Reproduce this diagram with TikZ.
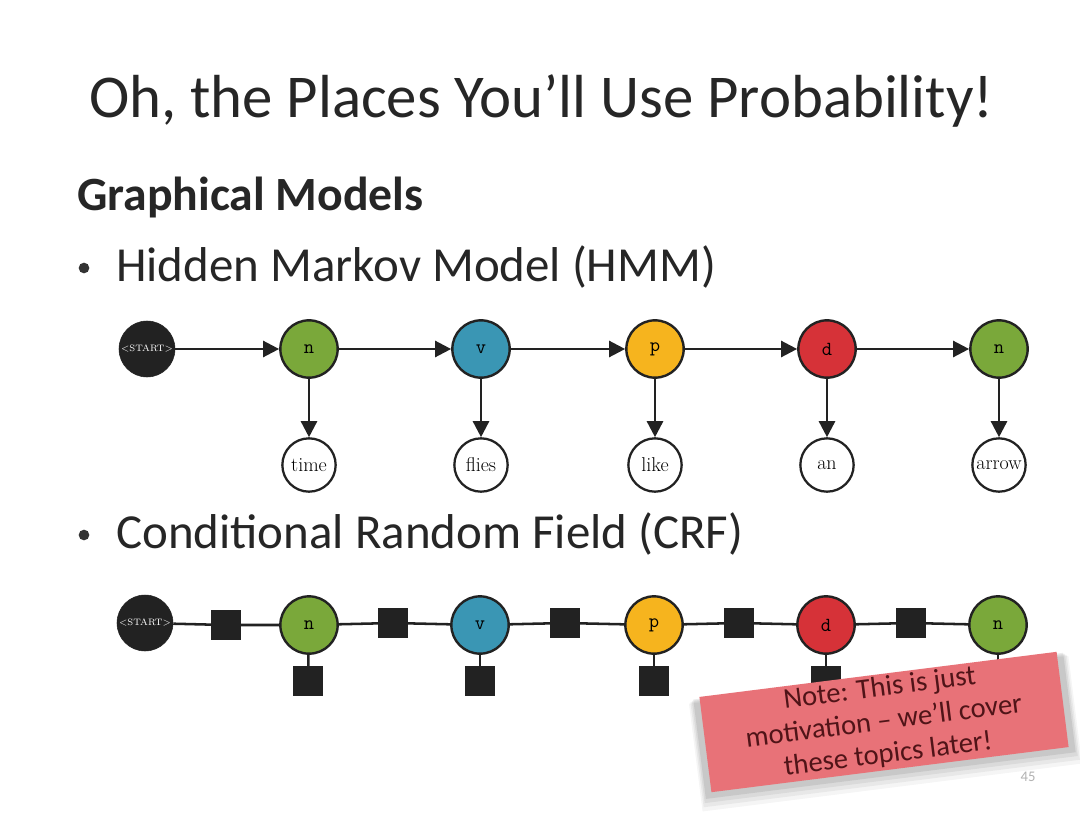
\documentclass[tikz,border=0pt]{standalone}
\usepackage{fontspec}
\newfontfamily\sans{Carlito}
\usetikzlibrary{arrows.meta}
\definecolor{cgreen}{RGB}{122,168,58}
\definecolor{cblue}{RGB}{58,150,180}
\definecolor{cyellow}{RGB}{246,180,30}
\definecolor{cred}{RGB}{214,50,56}
\definecolor{cdark}{RGB}{34,34,34}
\definecolor{notebg}{RGB}{232,114,120}
\definecolor{notetx}{RGB}{80,20,24}
\begin{document}
\begin{tikzpicture}[x=0.75pt,y=-0.75pt,
  state/.style={circle,draw=cdark,line width=1.8pt,minimum size=43pt,inner sep=0pt,font=\ttfamily\fontsize{15}{15}\selectfont},
  word/.style={circle,draw=cdark,line width=1.7pt,fill=white,minimum size=40pt,inner sep=0pt,font=\fontsize{15}{15}\selectfont},
  startnode/.style={circle,fill=cdark,draw=cdark,minimum size=42pt,inner sep=0pt,text=white,font=\fontsize{7}{7}\selectfont},
  factor/.style={rectangle,fill=cdark,minimum size=22pt,inner sep=0pt},
  edge/.style={draw=cdark,line width=1.9pt},
  arr/.style={edge,-{Triangle[length=12pt,width=12pt]}},
  title/.style={anchor=base west,inner sep=0pt,font=\sans\fontsize{45.6}{45.6}\selectfont,text=black!85},
  head/.style={anchor=base west,inner sep=0pt,font=\sans\bfseries\fontsize{35.8}{35.8}\selectfont,text=black!85},
  bul/.style={anchor=base west,inner sep=0pt,font=\sans\fontsize{36.7}{36.7}\selectfont,text=black!85},
  bdot/.style={circle,fill=black!80,minimum size=8pt,inner sep=0pt}]
\useasboundingbox[fill=white] (0,0) rectangle (1080,834);
% texts
\node[title] (t) at (89,118) {Oh, the Places You’ll Use Probability!};
\node[head] (h) at (77,211) {Graphical Models};
\node[bdot] (b1) at (84,268) {};
\node[bul] (hmm) at (116,281) {Hidden Markov Model (HMM)};
\node[bdot] (b2) at (84,535) {};
\node[bul] (crf) at (116,548) {Conditional Random Field (CRF)};
% HMM
\node[startnode] (s1) at (147,349) {<START>};
\node[state,fill=cgreen] (a1) at (309,349) {n};
\node[state,fill=cblue] (a2) at (481,349) {v};
\node[state,fill=cyellow] (a3) at (655,349) {p};
\node[state,fill=cred] (a4) at (827,349) {d};
\node[state,fill=cgreen] (a5) at (999,349) {n};
\node[word] (w1) at (309,465) {time};
\node[word] (w2) at (481,465) {flies};
\node[word] (w3) at (655,465) {like};
\node[word] (w4) at (827,465) {an};
\node[word] (w5) at (999,465) {arrow};
\draw[arr] (s1) -- (a1);
\draw[arr] (a1) -- (a2);
\draw[arr] (a2) -- (a3);
\draw[arr] (a3) -- (a4);
\draw[arr] (a4) -- (a5);
\foreach \i in {1,...,5} {\draw[arr] (a\i) -- (w\i);}
% CRF
\node[startnode] (s2) at (145,623) {<START>};
\node[state,fill=cgreen] (c1) at (309,625) {n};
\node[state,fill=cblue] (c2) at (480,625) {v};
\node[state,fill=cyellow] (c3) at (654,625) {p};
\node[state,fill=cred] (c4) at (826,625) {d};
\node[state,fill=cgreen] (c5) at (998,625) {n};
\node[factor] (f1) at (226,625) {};
\node[factor] (f2) at (393,623) {};
\node[factor] (f3) at (565,623) {};
\node[factor] (f4) at (739,623) {};
\node[factor] (f5) at (911,623) {};
\node[factor] (g1) at (308,681) {};
\node[factor] (g2) at (480,681) {};
\node[factor] (g3) at (654,681) {};
\node[factor] (g4) at (826,681) {};
\node[factor] (g5) at (998,681) {};
\draw[edge] (s2) -- (f1) -- (c1);
\draw[edge] (c1) -- (f2) -- (c2);
\draw[edge] (c2) -- (f3) -- (c3);
\draw[edge] (c3) -- (f4) -- (c4);
\draw[edge] (c4) -- (f5) -- (c5);
\foreach \i in {1,...,5} {\draw[edge] (c\i) -- (g\i);}
% note with soft shadow
\foreach \d/\o in {18/0.04,14/0.05,10/0.06,6/0.08}
  {\fill[black,opacity=\o,rotate around={7.2:(884,722)}] (700-\d*0.4,674+\d*0.3) rectangle (1068+\d*0.4,770+\d);}
\node[fill=notebg,rotate=7.2,minimum width=270pt,minimum height=72pt,align=center,text=notetx,
  font=\sans\fontsize{21.5}{25}\selectfont,inner sep=0pt] (note) at (884,722)
  {Note: This is just\\motivation – we’ll cover\\these topics later!};
% page number
\node[font=\sans\fontsize{11}{11}\selectfont,text=black!30] (pg) at (1028,777) {45};
\end{tikzpicture}
\end{document}
